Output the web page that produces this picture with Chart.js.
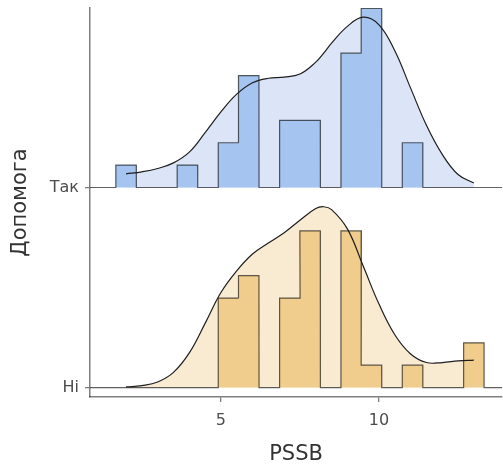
<!DOCTYPE html>
<html>
<head>
<meta charset="utf-8">
<script src="https://cdn.jsdelivr.net/npm/chart.js@4.4.1/dist/chart.umd.min.js"></script>
<style>
  html, body { margin: 0; padding: 0; background: #fff; }
  #wrap { width: 503px; height: 468px; }
</style>
</head>
<body>
<div id="wrap"><canvas id="ridges" width="503" height="468"></canvas></div>
<script>
/** Data */
const groups = ["Так", "Ні"];

// histogram bins (PSSB bin centres) and counts per group
const binCenters = [2.00, 2.65, 3.29, 3.94, 4.59, 5.24, 5.88, 6.53, 7.18, 7.82, 8.47, 9.12, 9.76, 10.41, 11.06, 11.71, 12.35, 13.00];
const binWidth   = 0.647;
const countsTak  = [1, 0, 0, 1, 0, 2, 5, 0, 3, 3, 0, 6, 8, 0, 2, 0, 0, 0];
const countsNi   = [0, 0, 0, 0, 0, 4, 5, 0, 4, 7, 0, 7, 1, 0, 1, 0, 0, 2];

// density curves (same height units as the counts)
const densX   = [2.0, 2.5, 3.0, 3.5, 4.0, 4.5, 5.0, 5.5, 6.0, 6.5, 7.0, 7.5, 8.0, 8.25, 8.5, 9.0, 9.5, 10.0, 10.5, 11.0, 11.5, 12.0, 12.5, 13.0];
const densTak = [0.61, 0.70, 0.85, 1.10, 1.58, 2.45, 3.38, 4.17, 4.68, 4.88, 4.93, 5.07, 5.60, 6.00, 6.45, 7.20, 7.61, 7.27, 6.11, 4.44, 2.78, 1.48, 0.58, 0.20];
const densNi  = [0.03, 0.09, 0.25, 0.68, 1.55, 2.87, 4.25, 5.22, 5.97, 6.46, 6.92, 7.48, 8.00, 8.08, 7.95, 7.09, 5.43, 3.73, 2.36, 1.50, 1.12, 1.12, 1.19, 1.23];

const xTicks = [5, 10];

/** layout constants */
const X_MIN = 0.86;
const X_MAX = 13.89;
const RIDGE_GAP = 8.94;   // baseline of "Так" above "Ні"
const Y_MIN = -0.42;
const Y_MAX = 16.96;

const FONT = "'DejaVu Sans', 'Noto Sans', sans-serif";

// step outline of a histogram, sitting on baseline `base`
function histOutline(counts, base) {
  const first = binCenters[0] - binWidth / 2;
  const last = binCenters[binCenters.length - 1] + binWidth / 2;
  const pts = [{ x: X_MIN, y: base }, { x: first, y: base }];
  counts.forEach((c, i) => {
    pts.push({ x: binCenters[i] - binWidth / 2, y: base + c });
    pts.push({ x: binCenters[i] + binWidth / 2, y: base + c });
  });
  pts.push({ x: last, y: base });
  pts.push({ x: X_MAX, y: base });
  return pts;
}

function densPoints(dens, base) {
  return densX.map((x, i) => ({ x: x, y: base + dens[i] }));
}

function ridge(counts, dens, base, light, mid) {
  return [
    { // density outline, on top
      data: densPoints(dens, base),
      borderColor: "#1e1e1e",
      borderWidth: 1.2,
      fill: false,
      tension: 0.4,
      pointRadius: 0,
      order: 0,
    },
    { // histogram
      data: histOutline(counts, base),
      borderColor: "rgba(0,0,0,0.62)",
      borderWidth: 1.2,
      backgroundColor: mid,
      fill: { value: base },
      tension: 0,
      pointRadius: 0,
      order: 1,
    },
    { // density area
      data: densPoints(dens, base),
      borderWidth: 0,
      borderColor: "rgba(0,0,0,0)",
      backgroundColor: light,
      fill: { value: base },
      tension: 0.4,
      pointRadius: 0,
      order: 2,
    },
  ];
}

const datasets = [
  ...ridge(countsTak, densTak, RIDGE_GAP, "rgb(219,229,247)", "rgb(165,196,240)"),
  ...ridge(countsNi, densNi, 0, "rgb(249,234,210)", "rgb(240,205,140)"),
];

const yTickValues = [RIDGE_GAP, 0];
const axisColor = "rgba(0,0,0,0.5)";

new Chart(document.getElementById("ridges"), {
  type: "line",
  data: { datasets },
  options: {
    responsive: false,
    animation: false,
    devicePixelRatio: 1,
    layout: { padding: { top: 8, right: 1, left: 0, bottom: 0 } },
    plugins: {
      legend: { display: false },
      tooltip: { enabled: false },
    },
    scales: {
      x: {
        type: "linear",
        min: X_MIN,
        max: X_MAX,
        afterBuildTicks: (s) => { s.ticks = xTicks.map((v) => ({ value: v })); },
        afterFit: (s) => { s.height = 71; s.paddingLeft = 0; s.paddingRight = 0; },
        grid: { drawOnChartArea: false, drawTicks: true, tickLength: 5, tickColor: axisColor, lineWidth: 1.3 },
        border: { display: true, color: axisColor, width: 1.5 },
        ticks: { color: "#4d4d4d", font: { family: FONT, size: 16 }, padding: 9, autoSkip: false, maxRotation: 0 },
        title: { display: true, text: "PSSB", color: "#333", font: { family: FONT, size: 21 }, padding: { top: 0, bottom: 1 } },
      },
      y: {
        type: "linear",
        min: Y_MIN,
        max: Y_MAX,
        afterBuildTicks: (s) => { s.ticks = yTickValues.map((v) => ({ value: v })); },
        afterFit: (s) => { s.width = 90; s.paddingTop = 0; s.paddingBottom = 0; },
        grid: { drawOnChartArea: false, drawTicks: true, tickLength: 5, tickColor: axisColor, lineWidth: 1.3 },
        border: { display: true, color: axisColor, width: 1.5 },
        ticks: {
          color: "#4d4d4d",
          font: { family: FONT, size: 16 },
          padding: 6,
          autoSkip: false,
          callback: (v, i) => groups[i],
        },
        title: { display: true, text: "Допомога", color: "#333", font: { family: FONT, size: 21 }, padding: { top: 8, bottom: 0 } },
      },
    },
  },
});
</script>
</body>
</html>
